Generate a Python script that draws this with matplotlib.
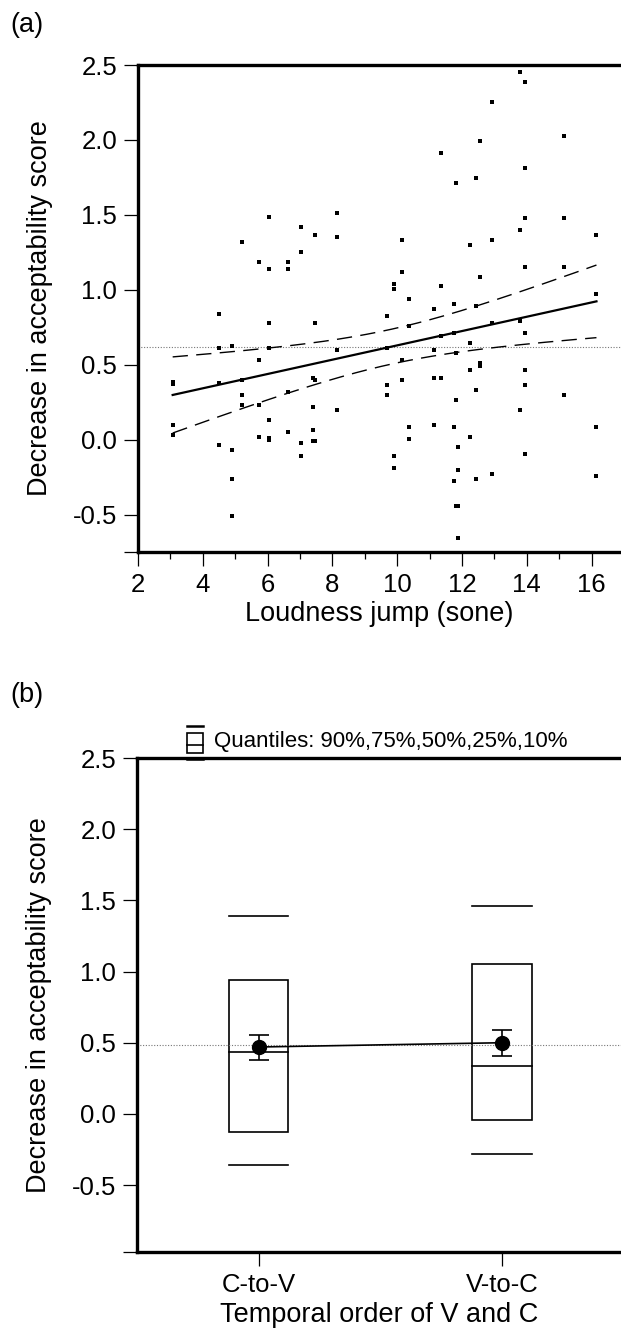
import numpy as np
import matplotlib
matplotlib.use("Agg")
import matplotlib.pyplot as plt
from matplotlib.lines import Line2D
from matplotlib.patches import Rectangle
from matplotlib.ticker import FixedLocator

plt.rcParams['font.family'] = ['Liberation Sans', 'DejaVu Sans']
plt.rcParams['axes.unicode_minus'] = False

# ---- panel (a): loudness jump vs decrease in acceptability ----
loud_x = [3.07] * 4 + [4.51] * 4 + [4.89] * 4 + [5.2] * 4 + [5.73] * 4 \
    + [6.03] * 7 + [6.64] * 4 + [7.02] * 4 + [7.4] * 4 + [7.47] * 4 + [8.15] * 4 \
    + [9.69] * 4 + [9.91] * 4 + [10.14] * 4 + [10.37] * 4 + [11.13] * 4 \
    + [11.35] * 4 + [11.74] * 4 + [11.81] * 4 + [11.88] * 4 + [12.26] * 4 \
    + [12.42] * 4 + [12.57] * 4 + [12.94] * 4 + [13.78] * 4 + [13.94] * 8 \
    + [15.16] * 4 + [16.15] * 4
score_y = [0.385, 0.37, 0.10, 0.033,
           0.84, 0.611, 0.38, -0.038,
           0.626, -0.072, -0.26, -0.508,
           1.32, 0.396, 0.30, 0.232,
           1.185, 0.529, 0.232, 0.018,
           1.484, 1.136, 0.775, 0.611, 0.133, -0.005, 0.01,
           1.185, 1.136, 0.315, 0.051,
           1.417, 1.252, -0.025, -0.107,
           0.412, 0.216, 0.067, -0.007,
           1.368, 0.775, 0.396, -0.007,
           1.515, 1.35, 0.595, 0.198,
           0.824, 0.611, 0.365, 0.30,
           1.04, 1.007, -0.107, -0.19,
           1.335, 1.121, 0.529, 0.396,
           0.94, 0.758, 0.085, 0.002,
           0.874, 0.595, 0.414, 0.10,
           1.91, 1.022, 0.694, 0.414,
           0.907, 0.709, 0.085, -0.278,
           1.714, 0.577, 0.265, -0.44,
           -0.05, -0.20, -0.44, -0.657,
           1.301, 0.644, 0.462, 0.018,
           1.745, 0.891, 0.332, -0.26,
           1.992, 1.088, 0.51, 0.49,
           2.255, 1.335, 0.775, -0.23,
           2.453, 1.399, 0.79, 0.2,
           2.386, 1.812, 1.482, 1.154, 0.709, 0.462, 0.365, -0.095,
           2.025, 1.482, 1.154, 0.30,
           1.368, 0.971, 0.085, -0.245]

# ---- panel (b): quantiles per temporal order ----
orders = ["C-to-V", "V-to-C"]
q10 = [-0.36, -0.28]
q25 = [-0.13, -0.04]
q50 = [0.435, 0.34]
q75 = [0.94, 1.05]
q90 = [1.39, 1.46]
means = [0.47, 0.50]
mean_lo = [0.382, 0.41]
mean_hi = [0.557, 0.59]
grand_mean_b = 0.487

FS = 18.5      # tick labels
LFS = 19.5     # axis labels
W, H = 621, 1331
fig = plt.figure(figsize=(W / 100, H / 100), dpi=100)


def style_axes(ax):
    for side in ("left", "top", "bottom"):
        ax.spines[side].set_linewidth(2.4)
    ax.spines["right"].set_visible(False)
    ax.tick_params(which="major", length=10, width=0.9, labelsize=FS, pad=5)
    ax.tick_params(which="minor", length=5, width=0.9)


# panel (a)
ax1 = fig.add_axes([138 / W, 1 - 552 / H, 1 - 138 / W, (552 - 65) / H])
xs = np.array(loud_x)
ys = np.array(score_y)
ax1.scatter(xs, ys, marker="s", s=12, color="black", linewidths=0, zorder=3)

# least-squares fit with 95% confidence curves for the fitted mean
slope, icpt = np.polyfit(xs, ys, 1)
n = len(xs)
resid = ys - (icpt + slope * xs)
s_err = np.sqrt(np.sum(resid ** 2) / (n - 2))
sxx = np.sum((xs - xs.mean()) ** 2)
xf = np.linspace(xs.min(), xs.max(), 200)
yf = icpt + slope * xf
half = 1.98 * s_err * np.sqrt(1 / n + (xf - xs.mean()) ** 2 / sxx)
ax1.plot(xf, yf, color="black", lw=1.6, zorder=2)
ax1.plot(xf, yf + half, color="black", lw=1.0, dashes=(11, 6), zorder=2)
ax1.plot(xf, yf - half, color="black", lw=1.0, dashes=(11, 6), zorder=2)
ax1.axhline(ys.mean(), color="#777777", lw=0.8, ls=(0, (1, 1.5)), zorder=1)

ax1.set_xlim(2, 2 + (W - 138) / 32.4)
ax1.set_ylim(-0.75, 2.5)
ax1.set_xticks(np.arange(2, 17, 2))
ax1.xaxis.set_minor_locator(FixedLocator(np.arange(3, 17, 2)))
yt = np.arange(-0.5, 2.51, 0.5)
ax1.set_yticks(yt)
ax1.set_yticklabels([f"{v:.1f}" for v in yt])
ax1.yaxis.set_minor_locator(FixedLocator([-0.75]))
style_axes(ax1)
ax1.tick_params(axis="y", which="minor", length=10)
ax1.set_xlabel("Loudness jump (sone)", fontsize=LFS, labelpad=3)
ax1.set_ylabel("Decrease in acceptability score", fontsize=LFS, labelpad=14)
fig.text(10 / W, 1 - 25 / H, "(a)", fontsize=LFS, va="center", ha="left")

# panel (b)
ax2 = fig.add_axes([137 / W, 1 - 1252 / H, 1 - 137 / W, (1252 - 758) / H])
pos = np.arange(1, len(orders) + 1)
hw = 0.122
for i, p in enumerate(pos):
    ax2.add_patch(Rectangle((p - hw, q25[i]), 2 * hw, q75[i] - q25[i],
                            fill=False, lw=1.2, ec="black"))
    ax2.plot([p - hw, p + hw], [q50[i], q50[i]], color="black", lw=1.2)
    ax2.plot([p - hw, p + hw], [q10[i], q10[i]], color="black", lw=1.2)
    ax2.plot([p - hw, p + hw], [q90[i], q90[i]], color="black", lw=1.2)
ax2.errorbar(pos, means,
             yerr=[np.array(means) - np.array(mean_lo), np.array(mean_hi) - np.array(means)],
             fmt="o", color="black", ms=10, capsize=7, elinewidth=1.2, capthick=1.2, zorder=4)
ax2.plot(pos, means, color="black", lw=1.2, zorder=3)
ax2.axhline(grand_mean_b, color="#777777", lw=0.8, ls=(0, (1, 1.5)), zorder=1)

ax2.set_xlim(0.5, 0.5 + (W - 137) / 243.4)
ax2.set_ylim(-0.97, 2.5)
ax2.set_xticks(pos)
ax2.set_xticklabels(orders)
ax2.set_yticks(yt)
ax2.set_yticklabels([f"{v:.1f}" for v in yt])
ax2.yaxis.set_minor_locator(FixedLocator([-0.97]))
style_axes(ax2)
ax2.tick_params(axis="y", which="minor", length=10)
ax2.set_xlabel("Temporal order of V and C", fontsize=LFS, labelpad=4)
ax2.set_ylabel("Decrease in acceptability score", fontsize=LFS, labelpad=14)
fig.text(10 / W, 1 - 695 / H, "(b)", fontsize=LFS, va="center", ha="left")


# quantile legend icon
def fx(px):
    return px / W


def fy(py):
    return 1 - py / H


fig.add_artist(Rectangle((fx(187), fy(753)), fx(203) - fx(187), fy(733) - fy(753),
                         fill=False, lw=1.2, ec="black", transform=fig.transFigure))
for yy, lw in ((726, 1.8), (745, 1.2), (759, 1.8)):
    fig.add_artist(Line2D([fx(187), fx(203)], [fy(yy), fy(yy)], color="black", lw=lw,
                          transform=fig.transFigure))
fig.text(fx(214), fy(741), "Quantiles: 90%,75%,50%,25%,10%", fontsize=16,
         va="center", ha="left")

fig.savefig("out.png", dpi=100)
